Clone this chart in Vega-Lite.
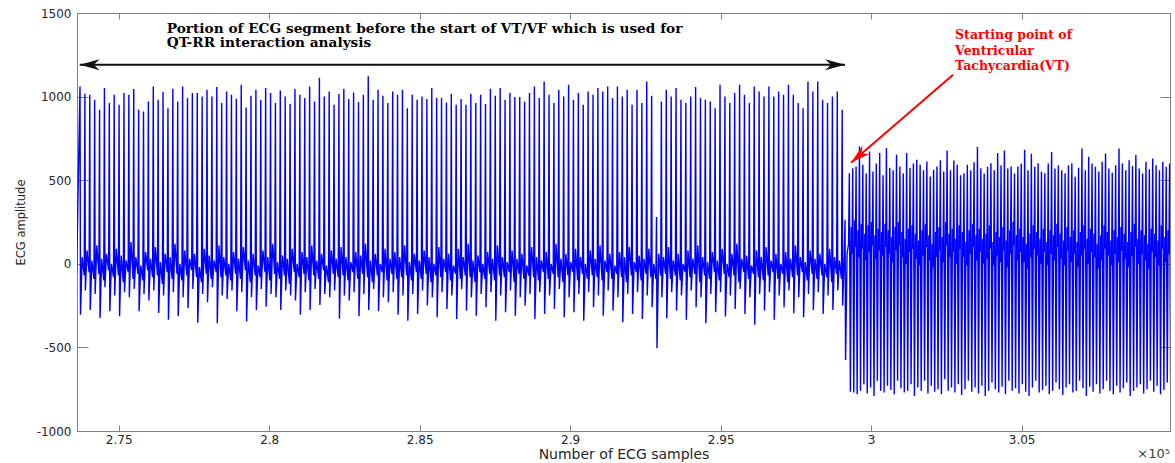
{
"$schema":"https://vega.github.io/schema/vega-lite/v6.json",
"width":1093,"height":418,
"autosize":{"type":"none"},
"padding":{"left":77,"top":13,"right":5,"bottom":32},
"background":"#ffffff",
"config":{"view":{"stroke":"#808080","strokeWidth":1},"axis":{"domainColor":"#808080","tickColor":"#808080","labelColor":"#262626","titleColor":"#262626","labelFont":"DejaVu Sans","titleFont":"DejaVu Sans","labelFontSize":12,"titleFontWeight":"normal","grid":false,"labelFlush":false,"labelOverlap":false}},
"datasets":{
"ann":[
{"id":"ba","x":273704,"x2":299133,"y":1190},
{"id":"ra","x":302722,"x2":299332,"y":1131,"y2":604},
{"id":"t1","x":276596,"y":1406,"text":"Portion of ECG segment before the start of VT/VF which is used for"},
{"id":"t1","x":276596,"y":1322,"text":"QT-RR interaction analysis"},
{"id":"t2","x":302789,"y":1366,"text":"Starting point of"},
{"id":"t2","x":302789,"y":1274,"text":"Ventricular"},
{"id":"t2","x":302789,"y":1182,"text":"Tachycardia(VT)"},
{"id":"t3","x":309930,"y":-1140,"text":"×10⁵"}
],
"ecg":[
{"x":273600,"y":-60},
{"x":273714,"y":1061},{"x":273730,"y":-305},{"x":273784,"y":40},{"x":273854,"y":-70},
{"x":273876,"y":1017},{"x":273892,"y":-160},{"x":273946,"y":80},{"x":274016,"y":-50},
{"x":274038,"y":1011},{"x":274054,"y":-276},{"x":274108,"y":20},{"x":274178,"y":-90},
{"x":274201,"y":981},{"x":274217,"y":-180},{"x":274271,"y":110},{"x":274341,"y":-60},
{"x":274363,"y":921},{"x":274379,"y":-324},{"x":274433,"y":30},{"x":274503,"y":-100},
{"x":274525,"y":1051},{"x":274541,"y":-140},{"x":274595,"y":60},{"x":274665,"y":-40},
{"x":274688,"y":961},{"x":274704,"y":-284},{"x":274758,"y":0},{"x":274828,"y":-80},
{"x":274850,"y":1011},{"x":274866,"y":-190},{"x":274920,"y":90},{"x":274990,"y":-70},
{"x":275012,"y":951},{"x":275028,"y":-314},{"x":275082,"y":50},{"x":275152,"y":-110},
{"x":275175,"y":1021},{"x":275191,"y":-170},{"x":275245,"y":20},{"x":275315,"y":-50},
{"x":275337,"y":1011},{"x":275353,"y":-200},{"x":275407,"y":130},{"x":275477,"y":-90},
{"x":275499,"y":1045},{"x":275515,"y":-150},{"x":275569,"y":40},{"x":275639,"y":-60},
{"x":275662,"y":921},{"x":275678,"y":-284},{"x":275732,"y":-10},{"x":275802,"y":-100},
{"x":275824,"y":911},{"x":275840,"y":-180},{"x":275894,"y":70},{"x":275964,"y":-40},
{"x":275986,"y":971},{"x":276002,"y":-220},{"x":276056,"y":30},{"x":276126,"y":-80},
{"x":276149,"y":1061},{"x":276165,"y":-160},{"x":276219,"y":100},{"x":276289,"y":-70},
{"x":276311,"y":981},{"x":276327,"y":-294},{"x":276381,"y":10},{"x":276451,"y":-120},
{"x":276473,"y":1027},{"x":276489,"y":-190},{"x":276543,"y":60},{"x":276613,"y":-50},
{"x":276636,"y":931},{"x":276652,"y":-335},{"x":276706,"y":40},{"x":276776,"y":-90},
{"x":276798,"y":1047},{"x":276814,"y":-170},{"x":276868,"y":120},{"x":276938,"y":-60},
{"x":276960,"y":971},{"x":276976,"y":-314},{"x":277030,"y":0},{"x":277100,"y":-100},
{"x":277123,"y":1061},{"x":277139,"y":-200},{"x":277193,"y":80},{"x":277263,"y":-70},
{"x":277285,"y":991},{"x":277301,"y":-266},{"x":277355,"y":30},{"x":277425,"y":-40},
{"x":277447,"y":1021},{"x":277463,"y":-150},{"x":277517,"y":60},{"x":277587,"y":-80},
{"x":277610,"y":1021},{"x":277626,"y":-352},{"x":277680,"y":-20},{"x":277750,"y":-110},
{"x":277772,"y":1001},{"x":277788,"y":-180},{"x":277842,"y":90},{"x":277912,"y":-60},
{"x":277934,"y":1041},{"x":277950,"y":-230},{"x":278004,"y":50},{"x":278074,"y":-90},
{"x":278097,"y":1001},{"x":278113,"y":-140},{"x":278167,"y":20},{"x":278237,"y":-50},
{"x":278259,"y":1057},{"x":278275,"y":-355},{"x":278329,"y":110},{"x":278399,"y":-80},
{"x":278421,"y":961},{"x":278437,"y":-190},{"x":278491,"y":40},{"x":278561,"y":-70},
{"x":278584,"y":1031},{"x":278600,"y":-210},{"x":278654,"y":0},{"x":278724,"y":-100},
{"x":278746,"y":1011},{"x":278762,"y":-160},{"x":278816,"y":70},{"x":278886,"y":-60},
{"x":278908,"y":987},{"x":278924,"y":-284},{"x":278978,"y":30},{"x":279048,"y":-90},
{"x":279071,"y":1071},{"x":279087,"y":-170},{"x":279141,"y":100},{"x":279211,"y":-40},
{"x":279233,"y":935},{"x":279249,"y":-345},{"x":279303,"y":20},{"x":279373,"y":-110},
{"x":279395,"y":1005},{"x":279411,"y":-200},{"x":279465,"y":60},{"x":279535,"y":-70},
{"x":279558,"y":1041},{"x":279574,"y":-276},{"x":279628,"y":-10},{"x":279698,"y":-80},
{"x":279720,"y":981},{"x":279736,"y":-150},{"x":279790,"y":80},{"x":279860,"y":-50},
{"x":279882,"y":1051},{"x":279898,"y":-256},{"x":279952,"y":40},{"x":280022,"y":-100},
{"x":280045,"y":1021},{"x":280061,"y":-180},{"x":280115,"y":120},{"x":280185,"y":-60},
{"x":280207,"y":961},{"x":280223,"y":-200},{"x":280277,"y":10},{"x":280347,"y":-90},
{"x":280369,"y":1037},{"x":280385,"y":-276},{"x":280439,"y":50},{"x":280509,"y":-70},
{"x":280532,"y":1001},{"x":280548,"y":-160},{"x":280602,"y":30},{"x":280672,"y":-120},
{"x":280694,"y":957},{"x":280710,"y":-190},{"x":280764,"y":90},{"x":280834,"y":-50},
{"x":280856,"y":1045},{"x":280872,"y":-220},{"x":280926,"y":0},{"x":280996,"y":-80},
{"x":281019,"y":1011},{"x":281035,"y":-305},{"x":281089,"y":70},{"x":281159,"y":-60},
{"x":281181,"y":991},{"x":281197,"y":-170},{"x":281251,"y":40},{"x":281321,"y":-100},
{"x":281343,"y":1061},{"x":281359,"y":-276},{"x":281413,"y":110},{"x":281483,"y":-70},
{"x":281506,"y":971},{"x":281522,"y":-150},{"x":281576,"y":20},{"x":281646,"y":-90},
{"x":281668,"y":1113},{"x":281684,"y":-246},{"x":281738,"y":60},{"x":281808,"y":-40},
{"x":281830,"y":1001},{"x":281846,"y":-180},{"x":281900,"y":-10},{"x":281970,"y":-110},
{"x":281993,"y":1031},{"x":282009,"y":-200},{"x":282063,"y":80},{"x":282133,"y":-60},
{"x":282155,"y":951},{"x":282171,"y":-160},{"x":282225,"y":30},{"x":282295,"y":-80},
{"x":282317,"y":1015},{"x":282333,"y":-328},{"x":282387,"y":100},{"x":282457,"y":-70},
{"x":282480,"y":1047},{"x":282496,"y":-190},{"x":282550,"y":40},{"x":282620,"y":-100},
{"x":282642,"y":985},{"x":282658,"y":-220},{"x":282712,"y":10},{"x":282782,"y":-50},
{"x":282804,"y":1025},{"x":282820,"y":-170},{"x":282874,"y":70},{"x":282944,"y":-90},
{"x":282967,"y":967},{"x":282983,"y":-314},{"x":283037,"y":50},{"x":283107,"y":-60},
{"x":283129,"y":1011},{"x":283145,"y":-180},{"x":283199,"y":120},{"x":283269,"y":-80},
{"x":283291,"y":1121},{"x":283307,"y":-276},{"x":283361,"y":20},{"x":283431,"y":-110},
{"x":283454,"y":981},{"x":283470,"y":-150},{"x":283524,"y":60},{"x":283594,"y":-70},
{"x":283616,"y":1041},{"x":283632,"y":-284},{"x":283686,"y":0},{"x":283756,"y":-50},
{"x":283778,"y":1005},{"x":283794,"y":-200},{"x":283848,"y":90},{"x":283918,"y":-100},
{"x":283941,"y":961},{"x":283957,"y":-230},{"x":284011,"y":30},{"x":284081,"y":-60},
{"x":284103,"y":1031},{"x":284119,"y":-170},{"x":284173,"y":70},{"x":284243,"y":-90},
{"x":284265,"y":1011},{"x":284281,"y":-305},{"x":284335,"y":40},{"x":284405,"y":-80},
{"x":284428,"y":1041},{"x":284444,"y":-190},{"x":284498,"y":110},{"x":284568,"y":-70},
{"x":284590,"y":931},{"x":284606,"y":-340},{"x":284660,"y":10},{"x":284730,"y":-100},
{"x":284752,"y":1011},{"x":284768,"y":-180},{"x":284822,"y":60},{"x":284892,"y":-50},
{"x":284915,"y":981},{"x":284931,"y":-300},{"x":284985,"y":20},{"x":285055,"y":-90},
{"x":285077,"y":1001},{"x":285093,"y":-160},{"x":285147,"y":80},{"x":285217,"y":-60},
{"x":285239,"y":985},{"x":285255,"y":-250},{"x":285309,"y":40},{"x":285379,"y":-110},
{"x":285402,"y":1051},{"x":285418,"y":-200},{"x":285472,"y":0},{"x":285542,"y":-70},
{"x":285564,"y":991},{"x":285580,"y":-320},{"x":285634,"y":100},{"x":285704,"y":-80},
{"x":285726,"y":991},{"x":285742,"y":-170},{"x":285796,"y":30},{"x":285866,"y":-50},
{"x":285889,"y":965},{"x":285905,"y":-270},{"x":285959,"y":60},{"x":286029,"y":-100},
{"x":286051,"y":1017},{"x":286067,"y":-190},{"x":286121,"y":-10},{"x":286191,"y":-60},
{"x":286213,"y":951},{"x":286229,"y":-330},{"x":286283,"y":90},{"x":286353,"y":-90},
{"x":286376,"y":985},{"x":286392,"y":-150},{"x":286446,"y":40},{"x":286516,"y":-70},
{"x":286538,"y":951},{"x":286554,"y":-280},{"x":286608,"y":120},{"x":286678,"y":-80},
{"x":286700,"y":1017},{"x":286716,"y":-200},{"x":286770,"y":20},{"x":286840,"y":-110},
{"x":286863,"y":961},{"x":286879,"y":-310},{"x":286933,"y":50},{"x":287003,"y":-50},
{"x":287025,"y":1011},{"x":287041,"y":-180},{"x":287095,"y":0},{"x":287165,"y":-90},
{"x":287187,"y":955},{"x":287203,"y":-260},{"x":287257,"y":70},{"x":287327,"y":-60},
{"x":287350,"y":1047},{"x":287366,"y":-170},{"x":287420,"y":30},{"x":287490,"y":-100},
{"x":287512,"y":1005},{"x":287528,"y":-340},{"x":287582,"y":110},{"x":287652,"y":-70},
{"x":287674,"y":1051},{"x":287690,"y":-190},{"x":287744,"y":40},{"x":287814,"y":-80},
{"x":287837,"y":981},{"x":287853,"y":-290},{"x":287907,"y":10},{"x":287977,"y":-50},
{"x":287999,"y":1021},{"x":288015,"y":-160},{"x":288069,"y":80},{"x":288139,"y":-110},
{"x":288161,"y":997},{"x":288177,"y":-310},{"x":288231,"y":30},{"x":288301,"y":-60},
{"x":288324,"y":997},{"x":288340,"y":-200},{"x":288394,"y":60},{"x":288464,"y":-90},
{"x":288486,"y":971},{"x":288502,"y":-250},{"x":288556,"y":-10},{"x":288626,"y":-70},
{"x":288648,"y":1021},{"x":288664,"y":-180},{"x":288718,"y":100},{"x":288788,"y":-80},
{"x":288811,"y":1061},{"x":288827,"y":-330},{"x":288881,"y":40},{"x":288951,"y":-100},
{"x":288973,"y":991},{"x":288989,"y":-170},{"x":289043,"y":20},{"x":289113,"y":-50},
{"x":289135,"y":1091},{"x":289151,"y":-300},{"x":289205,"y":70},{"x":289275,"y":-90},
{"x":289298,"y":1011},{"x":289314,"y":-190},{"x":289368,"y":0},{"x":289438,"y":-60},
{"x":289460,"y":961},{"x":289476,"y":-270},{"x":289530,"y":120},{"x":289600,"y":-80},
{"x":289622,"y":1041},{"x":289638,"y":-150},{"x":289692,"y":30},{"x":289762,"y":-110},
{"x":289785,"y":1001},{"x":289801,"y":-320},{"x":289855,"y":60},{"x":289925,"y":-70},
{"x":289947,"y":1071},{"x":289963,"y":-200},{"x":290017,"y":10},{"x":290087,"y":-50},
{"x":290109,"y":981},{"x":290125,"y":-290},{"x":290179,"y":90},{"x":290249,"y":-100},
{"x":290272,"y":1021},{"x":290288,"y":-180},{"x":290342,"y":40},{"x":290412,"y":-60},
{"x":290434,"y":951},{"x":290450,"y":-340},{"x":290504,"y":0},{"x":290574,"y":-90},
{"x":290596,"y":1031},{"x":290612,"y":-170},{"x":290666,"y":80},{"x":290736,"y":-70},
{"x":290759,"y":1011},{"x":290775,"y":-260},{"x":290829,"y":30},{"x":290899,"y":-80},
{"x":290921,"y":1051},{"x":290937,"y":-190},{"x":290991,"y":110},{"x":291061,"y":-100},
{"x":291083,"y":1031},{"x":291099,"y":-310},{"x":291153,"y":20},{"x":291223,"y":-50},
{"x":291246,"y":1061},{"x":291262,"y":-160},{"x":291316,"y":60},{"x":291386,"y":-90},
{"x":291408,"y":991},{"x":291424,"y":-280},{"x":291478,"y":-10},{"x":291548,"y":-60},
{"x":291570,"y":1061},{"x":291586,"y":-200},{"x":291640,"y":70},{"x":291710,"y":-80},
{"x":291733,"y":1001},{"x":291749,"y":-350},{"x":291803,"y":40},{"x":291873,"y":-110},
{"x":291895,"y":1041},{"x":291911,"y":-180},{"x":291965,"y":100},{"x":292035,"y":-70},
{"x":292057,"y":951},{"x":292073,"y":-300},{"x":292127,"y":10},{"x":292197,"y":-50},
{"x":292220,"y":1041},{"x":292236,"y":-170},{"x":292290,"y":50},{"x":292360,"y":-100},
{"x":292382,"y":961},{"x":292398,"y":-330},{"x":292452,"y":30},{"x":292522,"y":-60},
{"x":292544,"y":1091},{"x":292560,"y":-190},{"x":292614,"y":90},{"x":292684,"y":-80},
{"x":292707,"y":1005},{"x":292723,"y":-260},{"x":292777,"y":0},{"x":292847,"y":-90},
{"x":292869,"y":280},{"x":292885,"y":-505},{"x":292939,"y":60},{"x":293009,"y":-70},
{"x":293031,"y":971},{"x":293047,"y":-200},{"x":293101,"y":40},{"x":293171,"y":-60},
{"x":293194,"y":1041},{"x":293210,"y":-325},{"x":293264,"y":100},{"x":293334,"y":-90},
{"x":293356,"y":1001},{"x":293372,"y":-170},{"x":293426,"y":20},{"x":293496,"y":-70},
{"x":293518,"y":1051},{"x":293534,"y":-280},{"x":293588,"y":60},{"x":293658,"y":-100},
{"x":293681,"y":981},{"x":293697,"y":-190},{"x":293751,"y":0},{"x":293821,"y":-50},
{"x":293843,"y":961},{"x":293859,"y":-335},{"x":293913,"y":80},{"x":293983,"y":-80},
{"x":294005,"y":1001},{"x":294021,"y":-160},{"x":294075,"y":30},{"x":294145,"y":-60},
{"x":294168,"y":1057},{"x":294184,"y":-260},{"x":294238,"y":110},{"x":294308,"y":-110},
{"x":294330,"y":991},{"x":294346,"y":-200},{"x":294400,"y":40},{"x":294470,"y":-70},
{"x":294492,"y":981},{"x":294508,"y":-355},{"x":294562,"y":10},{"x":294632,"y":-90},
{"x":294655,"y":971},{"x":294671,"y":-180},{"x":294725,"y":70},{"x":294795,"y":-50},
{"x":294817,"y":931},{"x":294833,"y":-290},{"x":294887,"y":20},{"x":294957,"y":-100},
{"x":294979,"y":1071},{"x":294995,"y":-170},{"x":295049,"y":90},{"x":295119,"y":-60},
{"x":295142,"y":1001},{"x":295158,"y":-315},{"x":295212,"y":0},{"x":295282,"y":-80},
{"x":295304,"y":961},{"x":295320,"y":-190},{"x":295374,"y":60},{"x":295444,"y":-70},
{"x":295466,"y":1021},{"x":295482,"y":-270},{"x":295536,"y":120},{"x":295606,"y":-110},
{"x":295629,"y":1071},{"x":295645,"y":-150},{"x":295699,"y":30},{"x":295769,"y":-50},
{"x":295791,"y":1011},{"x":295807,"y":-300},{"x":295861,"y":50},{"x":295931,"y":-90},
{"x":295953,"y":961},{"x":295969,"y":-200},{"x":296023,"y":-10},{"x":296093,"y":-60},
{"x":296116,"y":1061},{"x":296132,"y":-365},{"x":296186,"y":80},{"x":296256,"y":-80},
{"x":296278,"y":1031},{"x":296294,"y":-180},{"x":296348,"y":40},{"x":296418,"y":-100},
{"x":296440,"y":1001},{"x":296456,"y":-280},{"x":296510,"y":100},{"x":296580,"y":-70},
{"x":296603,"y":1061},{"x":296619,"y":-170},{"x":296673,"y":20},{"x":296743,"y":-50},
{"x":296765,"y":1001},{"x":296781,"y":-335},{"x":296835,"y":60},{"x":296905,"y":-90},
{"x":296927,"y":1031},{"x":296943,"y":-190},{"x":296997,"y":0},{"x":297067,"y":-60},
{"x":297090,"y":1011},{"x":297106,"y":-260},{"x":297160,"y":70},{"x":297230,"y":-110},
{"x":297252,"y":1071},{"x":297268,"y":-160},{"x":297322,"y":30},{"x":297392,"y":-80},
{"x":297414,"y":1011},{"x":297430,"y":-295},{"x":297484,"y":110},{"x":297554,"y":-70},
{"x":297577,"y":961},{"x":297593,"y":-200},{"x":297647,"y":40},{"x":297717,"y":-50},
{"x":297739,"y":931},{"x":297755,"y":-320},{"x":297809,"y":10},{"x":297879,"y":-100},
{"x":297901,"y":1091},{"x":297917,"y":-180},{"x":297971,"y":80},{"x":298041,"y":-60},
{"x":298064,"y":1031},{"x":298080,"y":-276},{"x":298134,"y":30},{"x":298204,"y":-90},
{"x":298226,"y":1091},{"x":298242,"y":-170},{"x":298296,"y":60},{"x":298366,"y":-70},
{"x":298388,"y":981},{"x":298404,"y":-300},{"x":298458,"y":0},{"x":298528,"y":-80},
{"x":298551,"y":961},{"x":298567,"y":-190},{"x":298621,"y":90},{"x":298691,"y":-110},
{"x":298713,"y":1001},{"x":298729,"y":-276},{"x":298783,"y":40},{"x":298853,"y":-60},
{"x":298875,"y":1031},{"x":298891,"y":-160},{"x":298945,"y":20},{"x":299015,"y":-90},
{"x":299038,"y":921},{"x":299054,"y":-250},{"x":299108,"y":60},
{"x":299133,"y":263},{"x":299150,"y":-575},{"x":299200,"y":60},{"x":299250,"y":120},
{"x":299276,"y":542},{"x":299311,"y":-765},{"x":299341,"y":220},{"x":299366,"y":60},
{"x":299388,"y":572},{"x":299423,"y":-770},{"x":299453,"y":260},{"x":299478,"y":100},
{"x":299500,"y":582},{"x":299535,"y":-780},{"x":299565,"y":200},{"x":299590,"y":40},
{"x":299612,"y":702},{"x":299647,"y":-760},{"x":299677,"y":240},{"x":299702,"y":90},
{"x":299724,"y":592},{"x":299759,"y":-720},{"x":299789,"y":180},{"x":299814,"y":20},
{"x":299836,"y":540},{"x":299871,"y":-775},{"x":299901,"y":230},{"x":299926,"y":70},
{"x":299948,"y":672},{"x":299983,"y":-740},{"x":300013,"y":250},{"x":300038,"y":110},
{"x":300060,"y":552},{"x":300095,"y":-790},{"x":300125,"y":170},{"x":300150,"y":30},
{"x":300172,"y":600},{"x":300207,"y":-700},{"x":300237,"y":210},{"x":300262,"y":80},
{"x":300284,"y":662},{"x":300319,"y":-760},{"x":300349,"y":190},{"x":300374,"y":50},
{"x":300396,"y":530},{"x":300431,"y":-770},{"x":300461,"y":240},{"x":300486,"y":100},
{"x":300508,"y":692},{"x":300543,"y":-730},{"x":300573,"y":200},{"x":300598,"y":60},
{"x":300620,"y":575},{"x":300655,"y":-755},{"x":300685,"y":160},{"x":300710,"y":10},
{"x":300732,"y":560},{"x":300767,"y":-780},{"x":300797,"y":220},{"x":300822,"y":80},
{"x":300844,"y":652},{"x":300879,"y":-700},{"x":300909,"y":250},{"x":300934,"y":110},
{"x":300956,"y":582},{"x":300991,"y":-745},{"x":301021,"y":190},{"x":301046,"y":40},
{"x":301068,"y":540},{"x":301103,"y":-770},{"x":301133,"y":150},{"x":301158,"y":0},
{"x":301180,"y":662},{"x":301215,"y":-760},{"x":301245,"y":210},{"x":301270,"y":70},
{"x":301292,"y":575},{"x":301327,"y":-720},{"x":301357,"y":230},{"x":301382,"y":90},
{"x":301404,"y":600},{"x":301439,"y":-790},{"x":301469,"y":180},{"x":301494,"y":30},
{"x":301516,"y":622},{"x":301551,"y":-740},{"x":301581,"y":140},{"x":301606,"y":-10},
{"x":301628,"y":592},{"x":301663,"y":-760},{"x":301693,"y":200},{"x":301718,"y":50},
{"x":301740,"y":560},{"x":301775,"y":-700},{"x":301805,"y":240},{"x":301830,"y":100},
{"x":301852,"y":612},{"x":301887,"y":-775},{"x":301917,"y":170},{"x":301942,"y":20},
{"x":301964,"y":522},{"x":301999,"y":-730},{"x":302029,"y":120},{"x":302054,"y":-20},
{"x":302076,"y":562},{"x":302111,"y":-765},{"x":302141,"y":190},{"x":302166,"y":40},
{"x":302188,"y":582},{"x":302223,"y":-750},{"x":302253,"y":220},{"x":302278,"y":80},
{"x":302300,"y":620},{"x":302335,"y":-780},{"x":302365,"y":160},{"x":302390,"y":10},
{"x":302412,"y":552},{"x":302447,"y":-690},{"x":302477,"y":250},{"x":302502,"y":110},
{"x":302524,"y":678},{"x":302559,"y":-760},{"x":302589,"y":180},{"x":302614,"y":40},
{"x":302636,"y":560},{"x":302671,"y":-740},{"x":302701,"y":210},{"x":302726,"y":70},
{"x":302748,"y":618},{"x":302783,"y":-770},{"x":302813,"y":150},{"x":302838,"y":0},
{"x":302860,"y":592},{"x":302895,"y":-720},{"x":302925,"y":230},{"x":302950,"y":90},
{"x":302972,"y":530},{"x":303007,"y":-785},{"x":303037,"y":190},{"x":303062,"y":40},
{"x":303084,"y":542},{"x":303119,"y":-750},{"x":303149,"y":130},{"x":303174,"y":-10},
{"x":303196,"y":592},{"x":303231,"y":-700},{"x":303261,"y":200},{"x":303286,"y":60},
{"x":303308,"y":560},{"x":303343,"y":-765},{"x":303373,"y":240},{"x":303398,"y":100},
{"x":303420,"y":608},{"x":303455,"y":-740},{"x":303485,"y":170},{"x":303510,"y":20},
{"x":303532,"y":698},{"x":303567,"y":-775},{"x":303597,"y":210},{"x":303622,"y":70},
{"x":303644,"y":572},{"x":303679,"y":-730},{"x":303709,"y":150},{"x":303734,"y":0},
{"x":303756,"y":540},{"x":303791,"y":-790},{"x":303821,"y":180},{"x":303846,"y":30},
{"x":303868,"y":580},{"x":303903,"y":-760},{"x":303933,"y":230},{"x":303958,"y":90},
{"x":303980,"y":602},{"x":304015,"y":-710},{"x":304045,"y":130},{"x":304070,"y":-10},
{"x":304092,"y":560},{"x":304127,"y":-750},{"x":304157,"y":190},{"x":304182,"y":50},
{"x":304204,"y":662},{"x":304239,"y":-770},{"x":304269,"y":160},{"x":304294,"y":10},
{"x":304316,"y":590},{"x":304351,"y":-735},{"x":304381,"y":220},{"x":304406,"y":80},
{"x":304428,"y":678},{"x":304463,"y":-780},{"x":304493,"y":140},{"x":304518,"y":-20},
{"x":304540,"y":570},{"x":304575,"y":-700},{"x":304605,"y":200},{"x":304630,"y":60},
{"x":304652,"y":582},{"x":304687,"y":-760},{"x":304717,"y":250},{"x":304742,"y":110},
{"x":304764,"y":540},{"x":304799,"y":-745},{"x":304829,"y":170},{"x":304854,"y":20},
{"x":304876,"y":582},{"x":304911,"y":-775},{"x":304941,"y":210},{"x":304966,"y":70},
{"x":304988,"y":600},{"x":305023,"y":-720},{"x":305053,"y":160},{"x":305078,"y":10},
{"x":305100,"y":682},{"x":305135,"y":-765},{"x":305165,"y":120},{"x":305190,"y":-30},
{"x":305212,"y":560},{"x":305247,"y":-790},{"x":305277,"y":180},{"x":305302,"y":40},
{"x":305324,"y":658},{"x":305359,"y":-740},{"x":305389,"y":230},{"x":305414,"y":90},
{"x":305436,"y":580},{"x":305471,"y":-700},{"x":305501,"y":190},{"x":305526,"y":50},
{"x":305548,"y":602},{"x":305583,"y":-770},{"x":305613,"y":150},{"x":305638,"y":0},
{"x":305660,"y":550},{"x":305695,"y":-755},{"x":305725,"y":210},{"x":305750,"y":70},
{"x":305772,"y":542},{"x":305807,"y":-730},{"x":305837,"y":130},{"x":305862,"y":-10},
{"x":305884,"y":600},{"x":305919,"y":-780},{"x":305949,"y":200},{"x":305974,"y":60},
{"x":305996,"y":668},{"x":306031,"y":-760},{"x":306061,"y":170},{"x":306086,"y":20},
{"x":306108,"y":570},{"x":306143,"y":-710},{"x":306173,"y":240},{"x":306198,"y":100},
{"x":306220,"y":588},{"x":306255,"y":-750},{"x":306285,"y":180},{"x":306310,"y":30},
{"x":306332,"y":560},{"x":306367,"y":-785},{"x":306397,"y":140},{"x":306422,"y":-10},
{"x":306444,"y":542},{"x":306479,"y":-740},{"x":306509,"y":220},{"x":306534,"y":80},
{"x":306556,"y":590},{"x":306591,"y":-720},{"x":306621,"y":160},{"x":306646,"y":10},
{"x":306668,"y":602},{"x":306703,"y":-770},{"x":306733,"y":200},{"x":306758,"y":60},
{"x":306780,"y":520},{"x":306815,"y":-760},{"x":306845,"y":130},{"x":306870,"y":-20},
{"x":306892,"y":575},{"x":306927,"y":-700},{"x":306957,"y":190},{"x":306982,"y":50},
{"x":307004,"y":690},{"x":307039,"y":-745},{"x":307069,"y":230},{"x":307094,"y":90},
{"x":307116,"y":560},{"x":307151,"y":-790},{"x":307181,"y":150},{"x":307206,"y":0},
{"x":307228,"y":640},{"x":307263,"y":-735},{"x":307293,"y":210},{"x":307318,"y":70},
{"x":307340,"y":600},{"x":307375,"y":-765},{"x":307405,"y":180},{"x":307430,"y":40},
{"x":307452,"y":580},{"x":307487,"y":-720},{"x":307517,"y":120},{"x":307542,"y":-30},
{"x":307564,"y":552},{"x":307599,"y":-775},{"x":307629,"y":170},{"x":307654,"y":20},
{"x":307676,"y":610},{"x":307711,"y":-750},{"x":307741,"y":230},{"x":307766,"y":90},
{"x":307788,"y":660},{"x":307823,"y":-700},{"x":307853,"y":190},{"x":307878,"y":50},
{"x":307900,"y":570},{"x":307935,"y":-760},{"x":307965,"y":140},{"x":307990,"y":-10},
{"x":308012,"y":545},{"x":308047,"y":-780},{"x":308077,"y":200},{"x":308102,"y":60},
{"x":308124,"y":590},{"x":308159,"y":-730},{"x":308189,"y":160},{"x":308214,"y":10},
{"x":308236,"y":690},{"x":308271,"y":-770},{"x":308301,"y":220},{"x":308326,"y":80},
{"x":308348,"y":600},{"x":308383,"y":-745},{"x":308413,"y":180},{"x":308438,"y":30},
{"x":308460,"y":560},{"x":308495,"y":-710},{"x":308525,"y":130},{"x":308550,"y":-20},
{"x":308572,"y":620},{"x":308607,"y":-790},{"x":308637,"y":190},{"x":308662,"y":50},
{"x":308684,"y":585},{"x":308719,"y":-760},{"x":308749,"y":240},{"x":308774,"y":100},
{"x":308796,"y":650},{"x":308831,"y":-740},{"x":308861,"y":150},{"x":308886,"y":0},
{"x":308908,"y":570},{"x":308943,"y":-720},{"x":308973,"y":200},{"x":308998,"y":60},
{"x":309020,"y":540},{"x":309055,"y":-775},{"x":309085,"y":170},{"x":309110,"y":20},
{"x":309132,"y":610},{"x":309167,"y":-750},{"x":309197,"y":120},{"x":309222,"y":-30},
{"x":309244,"y":565},{"x":309279,"y":-700},{"x":309309,"y":210},{"x":309334,"y":70},
{"x":309356,"y":630},{"x":309391,"y":-765},{"x":309421,"y":180},{"x":309446,"y":40},
{"x":309468,"y":590},{"x":309503,"y":-730},{"x":309533,"y":140},{"x":309558,"y":-10},
{"x":309580,"y":560},{"x":309615,"y":-780},{"x":309645,"y":230},{"x":309670,"y":90},
{"x":309692,"y":610},{"x":309727,"y":-755},{"x":309757,"y":160},{"x":309782,"y":10},
{"x":309804,"y":580},{"x":309839,"y":-710},{"x":309869,"y":200},{"x":309894,"y":60},
{"x":309916,"y":600},{"x":309951,"y":-740}
]},
"layer":[
{"data":{"name":"ecg"},
 "mark":{"type":"line","color":"#0000ff","strokeWidth":1.4,"clip":true},
 "encoding":{
  "x":{"field":"x","type":"quantitative","sort":null,"scale":{"domain":[273614,309930],"nice":false,"zero":false},
   "axis":{"orient":"bottom","values":[275000,280000,285000,290000,295000,300000,305000],"labelExpr":"format(datum.value/100000,'.3~g')","title":"Number of ECG samples","titleFontSize":14,"tickSize":-6,"labelPadding":9,"titlePadding":2}},
  "y":{"field":"y","type":"quantitative","scale":{"domain":[-1000,1500],"nice":false,"zero":false},
   "axis":{"orient":"left","values":[-1000,-500,0,500,1000,1500],"labelExpr":"''+datum.value","title":"ECG amplitude","titleFontSize":11.5,"tickSize":-11,"labelPadding":17,"titlePadding":10}}
 }},
{"data":{"name":"ann"},
 "transform":[{"filter":"datum.id==='ba'"}],
 "mark":{"type":"rule","color":"#111111","strokeWidth":2},
 "encoding":{
  "x":{"field":"x","type":"quantitative","axis":{"orient":"top","values":[275000,280000,285000,290000,295000,300000,305000],"labels":false,"title":null,"tickSize":-6}},
  "x2":{"field":"x2"},
  "y":{"field":"y","type":"quantitative","axis":{"orient":"right","values":[-1000,-500,0,500,1000,1500],"labels":false,"title":null,"tickSize":-10}}
 }},
{"data":{"name":"ann"},
 "transform":[{"filter":"datum.id==='ba'"}],
 "mark":{"type":"point","shape":"M0,0L-2,-0.55L-1.4,0L-2,0.55Z","size":400,"filled":true,"color":"#111111","opacity":1,"angle":180},
 "encoding":{"x":{"field":"x","type":"quantitative","axis":null},"y":{"field":"y","type":"quantitative","axis":null}}},
{"data":{"name":"ann"},
 "transform":[{"filter":"datum.id==='ba'"}],
 "mark":{"type":"point","shape":"M0,0L-2,-0.55L-1.4,0L-2,0.55Z","size":400,"filled":true,"color":"#111111","opacity":1,"angle":0},
 "encoding":{"x":{"field":"x2","type":"quantitative","axis":null},"y":{"field":"y","type":"quantitative","axis":null}}},
{"data":{"name":"ann"},
 "transform":[{"filter":"datum.id==='ra'"}],
 "mark":{"type":"rule","color":"#ff0000","strokeWidth":2},
 "encoding":{"x":{"field":"x","type":"quantitative","axis":null},"x2":{"field":"x2"},"y":{"field":"y","type":"quantitative","axis":null},"y2":{"field":"y2"}}},
{"data":{"name":"ann"},
 "transform":[{"filter":"datum.id==='ra'"}],
 "mark":{"type":"point","shape":"M0,0L-2,-0.55L-1.4,0L-2,0.55Z","size":400,"filled":true,"color":"#ff0000","opacity":1,"angle":139},
 "encoding":{"x":{"field":"x2","type":"quantitative","axis":null},"y":{"field":"y2","type":"quantitative","axis":null}}},
{"data":{"name":"ann"},
 "transform":[{"filter":"datum.id==='t1'"}],
 "mark":{"type":"text","font":"DejaVu Serif","fontWeight":"bold","fontSize":13.7,"color":"#000000","align":"left","baseline":"middle"},
 "encoding":{"x":{"field":"x","type":"quantitative","axis":null},"y":{"field":"y","type":"quantitative","axis":null},"text":{"field":"text","type":"nominal"}}},
{"data":{"name":"ann"},
 "transform":[{"filter":"datum.id==='t2'"}],
 "mark":{"type":"text","font":"DejaVu Serif","fontWeight":"bold","fontSize":12.5,"color":"#ff0000","align":"left","baseline":"middle"},
 "encoding":{"x":{"field":"x","type":"quantitative","axis":null},"y":{"field":"y","type":"quantitative","axis":null},"text":{"field":"text","type":"nominal"}}},
{"data":{"name":"ann"},
 "transform":[{"filter":"datum.id==='t3'"}],
 "mark":{"type":"text","font":"DejaVu Sans","fontSize":13,"color":"#404040","align":"right","baseline":"middle"},
 "encoding":{"x":{"field":"x","type":"quantitative","axis":null},"y":{"field":"y","type":"quantitative","axis":null},"text":{"field":"text","type":"nominal"}}}
],
"resolve":{"axis":{"x":"independent","y":"independent"}}
}
